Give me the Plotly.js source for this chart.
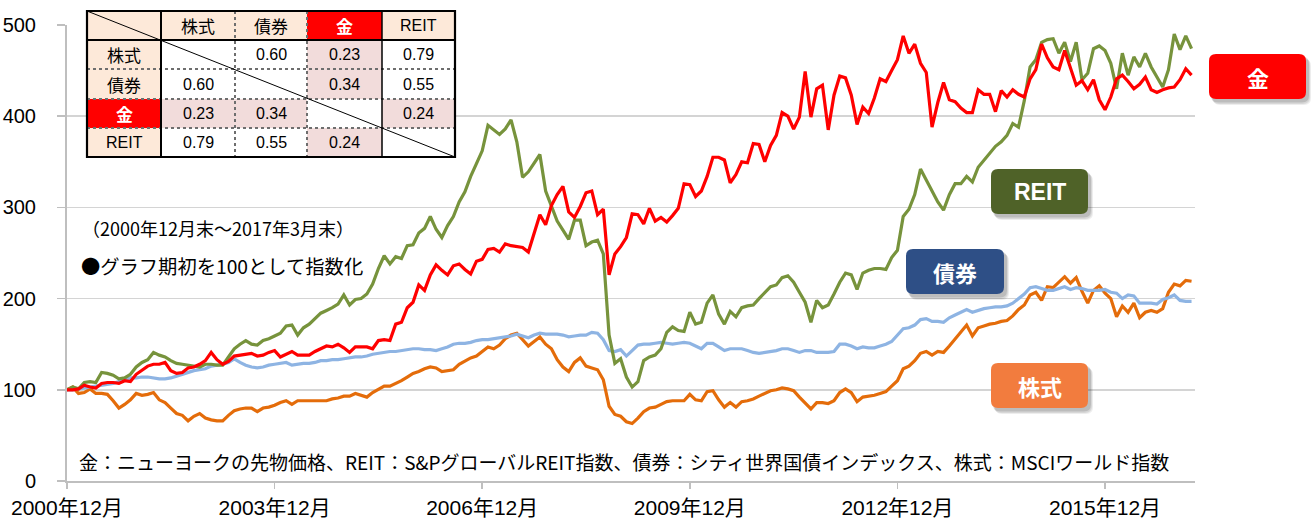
<!DOCTYPE html>
<html>
<head>
<meta charset="utf-8">
<script src="https://cdn.plot.ly/plotly-3.0.1.min.js"></script>
<style>
html,body{margin:0;padding:0;background:#fff;}
#chart{width:1313px;height:521px;}
</style>
</head>
<body>
<div id="chart"></div>
<script>
// ---------------- DATA ----------------
// monthly index, 0 = 2000年12月末 ... 195 = 2017年3月末
const tickVals = [0, 36, 72, 108, 144, 180];
const tickLabels = ["2000年12月", "2003年12月", "2006年12月", "2009年12月", "2012年12月", "2015年12月"];

// 株式 (MSCIワールド)
const kabu = [100,103,96,97,101,96,96,95,88,80,
84,89,96,94,95,97,89,86,80,74,
72,66,71,74,69,67,66,66,72,77,
79,80,80,76,80,81,83,86,88,84,
88,88,88,88,88,88,90,91,93,93,
96,94,92,97,101,104,104,107,110,114,
118,120,123,125,124,120,121,122,128,132,
135,137,142,147,145,149,156,160,162,155,
148,153,158,150,145,133,125,120,130,135,
126,124,122,111,82,73,71,65,63,69,
76,80,81,84,87,88,88,88,95,89,
88,98,99,89,81,86,81,87,88,90,
93,96,99,100,102,101,99,92,85,79,
86,86,85,88,97,101,97,87,92,93,
94,96,98,104,110,123,126,132,140,142,
138,142,141,148,156,163,171,159,168,170,
172,173,175,176,181,188,193,204,207,198,
213,212,218,224,217,223,208,195,209,214,
206,200,180,192,185,195,179,185,187,185,
189,207,216,214,220,219];

// 債券 (シティ世界国債)
const saiken = [100,100,101,102,103,104,105,106,107,109,
111,113,113,114,114,113,112,112,113,115,
117,119,121,122,123,126,127,128,130,134,
130,127,125,124,125,127,128,129,130,127,
128,129,129,130,132,132,133,133,134,135,
136,136,137,139,140,141,142,142,143,144,
145,145,144,144,143,145,147,150,151,151,
152,154,155,155,156,157,158,159,161,159,
157,160,162,161,161,161,160,158,159,160,
160,163,162,155,143,142,144,137,143,149,
150,150,151,152,151,150,151,152,151,148,
145,151,151,147,143,145,145,145,143,141,
140,141,142,143,145,145,143,141,143,143,
141,141,141,142,150,150,148,145,147,146,
146,148,150,153,160,167,168,171,177,178,
175,175,174,179,182,185,188,185,187,189,
190,191,191,192,195,200,205,212,213,211,
209,209,211,213,210,212,211,209,209,209,
210,207,206,200,204,203,195,195,195,194,
199,201,204,198,197,197];

// 金 (ニューヨーク先物)
const kin = [100,100,101,105,103,102,107,108,108,107,
110,109,117,121,126,128,128,130,121,118,
119,124,125,128,132,141,133,128,131,137,
138,139,140,137,138,141,143,136,139,142,
138,138,138,142,145,148,147,150,146,141,
147,147,147,145,154,155,154,172,174,190,
196,215,209,226,237,231,226,236,238,232,
227,241,243,254,255,251,260,258,257,256,
251,272,292,281,302,314,323,295,289,301,
316,318,292,298,226,249,257,267,293,292,
282,299,285,289,284,291,299,326,325,312,
318,334,355,355,352,327,336,350,349,370,
369,350,368,379,404,400,386,399,449,399,
430,434,385,423,444,442,423,391,410,403,
420,441,438,450,462,488,469,479,458,448,
388,415,437,418,416,409,404,404,429,424,
424,405,428,421,429,424,421,441,451,479,
464,454,451,472,452,434,439,429,440,418,
407,421,441,445,438,430,435,443,429,426,
429,431,432,440,452,445];

// REIT (S&PグローバルREIT)
const reit = [100,103,101,108,109,108,119,118,116,112,
113,117,125,130,133,141,138,136,132,129,
128,127,126,125,128,128,127,127,136,145,
150,154,150,149,154,156,159,162,170,171,
160,168,172,178,184,187,190,194,204,193,
199,200,205,216,233,247,238,246,244,258,
259,272,277,290,276,267,280,290,306,317,
334,348,362,390,385,380,386,396,372,333,
339,348,358,318,301,285,275,265,286,286,
258,262,264,249,160,129,134,114,103,109,
132,136,138,145,163,169,165,164,185,172,
174,195,204,183,172,186,180,190,192,193,
200,206,213,215,223,225,218,207,196,174,
198,190,193,205,218,228,226,210,228,231,
233,233,232,245,253,290,298,314,342,330,
318,306,297,314,326,326,334,328,344,352,
360,367,372,379,392,388,417,454,462,481,
484,485,469,481,460,481,440,447,474,477,
472,458,430,469,445,465,454,469,454,443,
432,451,490,473,488,474];

// 相関係数表
const assetNames = ["株式", "債券", "金", "REIT"];
const corr = [
  [null, 0.60, 0.23, 0.79],
  [0.60, null, 0.34, 0.55],
  [0.23, 0.34, null, 0.24],
  [0.79, 0.55, 0.24, null]
];

const periodNote = "（2000年12月末～2017年3月末）";
const indexNote = "●グラフ期初を100として指数化";
const sourceNote = "金：ニューヨークの先物価格、REIT：S&PグローバルREIT指数、債券：シティ世界国債インデックス、株式：MSCIワールド指数";

// ---------------- LAYOUT HELPERS ----------------
const W = 1313, H = 521;
const L = 67, R = 1195, T = 25, B = 481;
const px = x => (x - L) / (R - L);
const py = y => (B - y) / (B - T);
const months = kabu.map((_, i) => i);

const FONT = "Liberation Sans, Arial, Noto Sans CJK JP, sans-serif";
const JFONT = "Noto Sans CJK JP, Liberation Sans, sans-serif";

const traces = [
  {name: "株式", y: kabu, color: "#E46C0A"},
  {name: "債券", y: saiken, color: "#8EB4E3"},
  {name: "REIT", y: reit, color: "#77933C"},
  {name: "金", y: kin, color: "#FF0000"}
].map(s => ({
  type: "scatter", mode: "lines", x: months, y: s.y, name: s.name,
  line: {color: s.color, width: 3.2}, hoverinfo: "x+y+name"
}));

const shapes = [];
const annotations = [];

// ---- correlation table ----
const colX = [87, 161, 235, 307, 382, 455];
const rowY = [11, 40, 69, 99, 128, 157];
const PEACH = "#FDE9D9", PINK = "#F2DCDB", RED = "#FF0000", WHITE = "#FFFFFF";
const GOLD = 2;
for (let r = 0; r < 5; r++) {
  for (let c = 0; c < 5; c++) {
    let fill = WHITE, txt = "", color = "#000", bold = false;
    if (r === 0 && c === 0) { fill = PEACH; }
    else if (r === 0 || c === 0) {
      const idx = (r === 0 ? c : r) - 1;
      txt = assetNames[idx];
      if (idx === GOLD) { fill = RED; color = "#FFF"; bold = true; }
      else fill = PEACH;
    } else {
      const v = corr[r - 1][c - 1];
      if (v !== null) {
        txt = v.toFixed(2);
        fill = (r - 1 === GOLD || c - 1 === GOLD) ? PINK : WHITE;
      }
    }
    shapes.push({type: "rect", xref: "paper", yref: "paper", layer: "above",
      x0: px(colX[c]), x1: px(colX[c + 1]), y0: py(rowY[r]), y1: py(rowY[r + 1]),
      fillcolor: fill, line: {width: 0}});
    if (txt) {
      const isNum = (r > 0 && c > 0);
      annotations.push({xref: "paper", yref: "paper",
        x: px((colX[c] + colX[c + 1]) / 2), y: py((rowY[r] + rowY[r + 1]) / 2),
        xanchor: "center", yanchor: "middle", showarrow: false,
        text: bold ? "<b>" + txt + "</b>" : txt,
        font: {family: isNum || txt === "REIT" ? FONT : JFONT, size: isNum || txt === "REIT" ? 16 : 17, color: color}});
    }
  }
}
// inner dotted lines
[69, 99, 128].forEach(y => shapes.push({type: "line", xref: "paper", yref: "paper", layer: "above",
  x0: px(87), x1: px(455), y0: py(y), y1: py(y), line: {color: "#6E6E6E", width: 2, dash: "dot"}}));
[235, 307].forEach(x => shapes.push({type: "line", xref: "paper", yref: "paper", layer: "above",
  x0: px(x), x1: px(x), y0: py(11), y1: py(157), line: {color: "#6E6E6E", width: 2, dash: "dot"}}));
// solid lines
shapes.push({type: "line", xref: "paper", yref: "paper", layer: "above",
  x0: px(87), x1: px(455), y0: py(40), y1: py(40), line: {color: "#000", width: 2}});
[161, 382].forEach(x => shapes.push({type: "line", xref: "paper", yref: "paper", layer: "above",
  x0: px(x), x1: px(x), y0: py(11), y1: py(157), line: {color: "#000", width: x === 161 ? 2 : 1.5}}));
// diagonal
shapes.push({type: "line", xref: "paper", yref: "paper", layer: "above",
  x0: px(87), x1: px(455), y0: py(11), y1: py(157), line: {color: "#000", width: 1}});
// outer border
shapes.push({type: "rect", xref: "paper", yref: "paper", layer: "above",
  x0: px(87), x1: px(455), y0: py(11), y1: py(157), line: {color: "#000", width: 2.2}});

// ---- label boxes ----
function rr(x0, y0, x1, y1, r) {
  const P = (x, y) => px(x) + "," + py(y);
  return `M${P(x0 + r, y0)} L${P(x1 - r, y0)} Q${P(x1, y0)} ${P(x1, y0 + r)} L${P(x1, y1 - r)} ` +
    `Q${P(x1, y1)} ${P(x1 - r, y1)} L${P(x0 + r, y1)} Q${P(x0, y1)} ${P(x0, y1 - r)} ` +
    `L${P(x0, y0 + r)} Q${P(x0, y0)} ${P(x0 + r, y0)} Z`;
}
const boxes = [
  {text: "金", color: "#FF0000", b: [1209, 54, 1306, 99]},
  {text: "REIT", color: "#4F6228", b: [991, 169, 1088, 214]},
  {text: "債券", color: "#2E4F86", b: [906, 249, 1004, 294]},
  {text: "株式", color: "#F27C3E", b: [991, 363, 1088, 408]}
];
boxes.forEach(bx => {
  const [x0, y0, x1, y1] = bx.b;
  [[5, 6, 0.07], [4, 5, 0.09], [3, 3.5, 0.12]].forEach(([dx, dy, a]) =>
    shapes.push({type: "path", xref: "paper", yref: "paper", layer: "above",
      path: rr(x0 + dx - 1, y0 + dy - 1, x1 + dx, y1 + dy, 7), fillcolor: `rgba(0,0,0,${a})`, line: {width: 0}}));
  shapes.push({type: "path", xref: "paper", yref: "paper", layer: "above",
    path: rr(x0, y0, x1, y1, 7), fillcolor: bx.color, line: {width: 0}});
  annotations.push({xref: "paper", yref: "paper", x: px((x0 + x1) / 2), y: py((y0 + y1) / 2),
    xanchor: "center", yanchor: "middle", showarrow: false, text: "<b>" + bx.text + "</b>",
    font: {family: bx.text === "REIT" ? FONT : JFONT, size: bx.text === "REIT" ? 23 : 22, color: "#FFFFFF"}});
});

// ---- notes ----
annotations.push({xref: "paper", yref: "paper", x: px(80), y: py(228), xanchor: "left", yanchor: "middle",
  showarrow: false, text: periodNote, font: {family: JFONT, size: 18, color: "#000"}});
annotations.push({xref: "paper", yref: "paper", x: px(79), y: py(266), xanchor: "left", yanchor: "middle",
  showarrow: false, text: indexNote, font: {family: JFONT, size: 19.3, color: "#000"}});
annotations.push({xref: "paper", yref: "paper", x: px(77), y: py(461), xanchor: "left", yanchor: "middle",
  showarrow: false, text: sourceNote, font: {family: JFONT, size: 19, color: "#000"}});

const layout = {
  width: W, height: H,
  margin: {l: L, r: W - R, t: T, b: H - B, pad: 0},
  paper_bgcolor: "#FFFFFF", plot_bgcolor: "#FFFFFF",
  showlegend: false,
  xaxis: {
    range: [0, 195.6], tickmode: "array", tickvals: tickVals, ticktext: tickLabels,
    showgrid: false, zeroline: false, showline: true, linecolor: "#BFBFBF", linewidth: 2,
    ticks: "outside", ticklen: 6, tickwidth: 1.5, tickcolor: "#BFBFBF",
    tickfont: {family: FONT, size: 21, color: "#000"}, ticklabelstandoff: 1
  },
  yaxis: {
    range: [0, 500], dtick: 100, tick0: 0,
    showgrid: true, gridcolor: "#D4D4D4", gridwidth: 1.5, zeroline: false,
    showline: true, linecolor: "#BFBFBF", linewidth: 2,
    ticks: "outside", ticklen: 8, tickwidth: 1.5, tickcolor: "#BFBFBF",
    tickfont: {family: FONT, size: 20, color: "#000"}, ticklabelstandoff: 17
  },
  shapes: shapes,
  annotations: annotations
};

Plotly.newPlot("chart", traces, layout, {displayModeBar: false, staticPlot: true});
</script>
</body>
</html>
